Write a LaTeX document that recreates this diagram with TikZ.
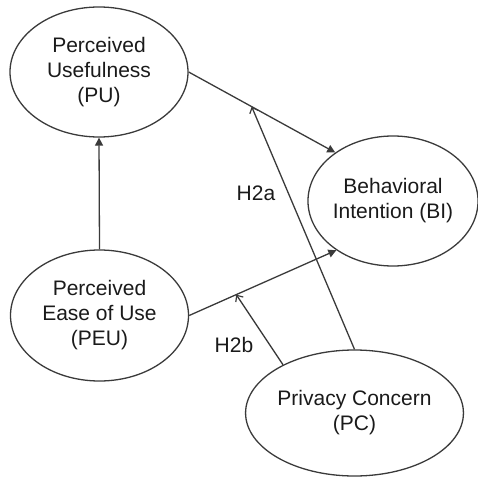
\documentclass[tikz,border=0pt]{standalone}
\usepackage{fontspec}
\setmainfont{Liberation Sans}
\usetikzlibrary{shapes.geometric,arrows.meta}
\definecolor{linegray}{HTML}{3A3A3A}
\definecolor{textgray}{HTML}{1A1A1A}
\begin{document}
\begin{tikzpicture}[x=1pt,y=-1pt,
  construct/.style={draw=linegray,line width=1.3pt,ellipse,inner sep=0pt,
    align=center,text=textgray,font=\fontsize{21}{25}\selectfont},
  path/.style={draw=linegray,line width=1.3pt,-{Triangle[width=8pt,length=8pt]}},
  moder/.style={draw=linegray,line width=1.3pt,-{Straight Barb[width=9pt,length=5pt,line width=1.2pt]}},
  hlabel/.style={text=textgray,font=\fontsize{21}{25}\selectfont,inner sep=0pt}]
\useasboundingbox (0,0) rectangle (477,478);
\node[construct,minimum width=178pt,minimum height=130pt] (PU) at (99,72) {Perceived\\Usefulness\\(PU)};
\node[construct,minimum width=178pt,minimum height=131pt] (PEU) at (99.5,315.5) {Perceived\\Ease of Use\\(PEU)};
\node[construct,minimum width=164pt,minimum height=130pt] (BI) at (393,201) {Behavioral\\Intention (BI)};
\node[construct,minimum width=179pt,minimum height=126pt] (PC) at (354.5,413) {Privacy Concern\\(PC)};
\draw[path] (PEU.north) -- (PU.south);
\draw[path] (PU.east) -- coordinate[pos=0.43] (m1) (BI.140);
\draw[path] (PEU.east) -- coordinate[pos=0.32] (m2) (BI.221);
\draw[moder] (PC.north) -- (m1);
\draw[moder] (PC.146) -- (m2);
\node[hlabel] (h2a) at (256,193) {H2a};
\node[hlabel] (h2b) at (234,345) {H2b};
\end{tikzpicture}
\end{document}
